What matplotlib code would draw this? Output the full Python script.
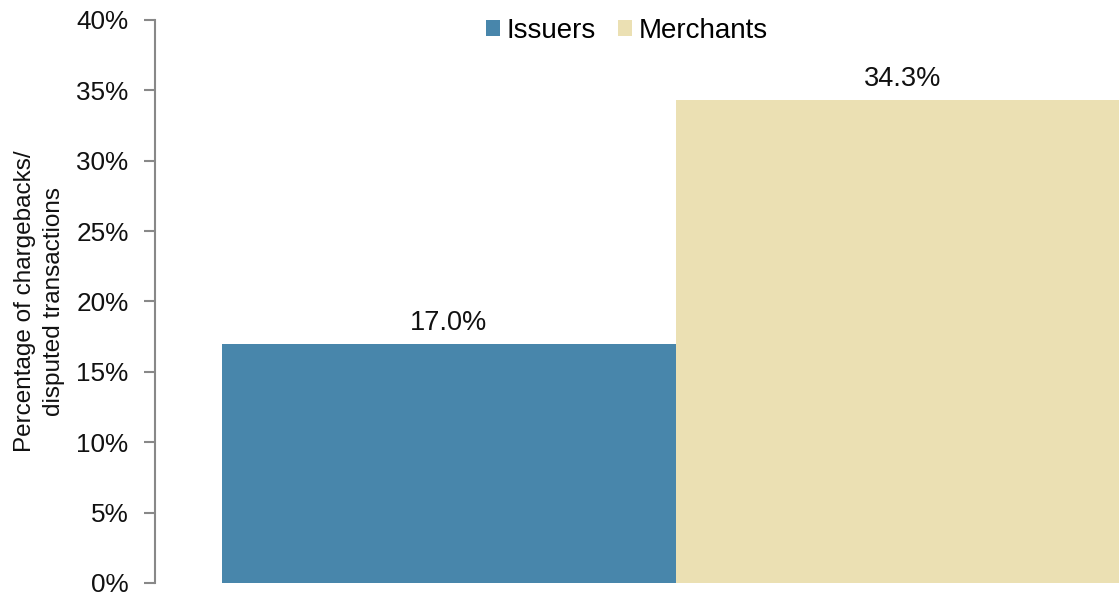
import matplotlib
matplotlib.use("Agg")
import matplotlib.pyplot as plt
from matplotlib.ticker import PercentFormatter

series = ["Issuers", "Merchants"]
values = [17.0, 34.3]
colors = ["#4886AB", "#EBE0B3"]
y_ticks = [0, 5, 10, 15, 20, 25, 30, 35, 40]

plt.rcParams["font.family"] = ["Liberation Sans", "DejaVu Sans"]

fig = plt.figure(figsize=(11.19, 5.95), dpi=100)
ax = fig.add_axes([0.1385, 0.0202, 0.931, 0.9462])

width = 0.4357
offsets = [-width / 2, width / 2]
for name, val, col, off in zip(series, values, colors, offsets):
    ax.bar(off, val, width=width, color=col, label=name)
    ax.text(off, val + 1.0, f"{val:.1f}%", ha="center", va="baseline", fontsize=19.5, color="#111111")

ax.set_xlim(-0.5, 0.5)
ax.set_ylim(0, 40)
ax.set_yticks(y_ticks)
ax.yaxis.set_major_formatter(PercentFormatter(decimals=0))
ax.set_xticks([])
ax.tick_params(axis="y", labelsize=18.8, length=8, width=1.5, color="#888888", pad=11, labelcolor="#111111")

for side in ["top", "right", "bottom"]:
    ax.spines[side].set_visible(False)
ax.spines["left"].set_color("#888888")
ax.spines["left"].set_linewidth(1.5)

ax.set_ylabel("Percentage of chargebacks/\ndisputed transactions", fontsize=17.5, color="#111111",
              labelpad=8, linespacing=1.4)

fig.legend(loc="upper center", bbox_to_anchor=(0.5603, 1.012), ncol=2, frameon=False,
           fontsize=20, handlelength=0.5, handleheight=0.5, handletextpad=0.22, columnspacing=0.82)

fig.savefig("out.png", dpi=100)
